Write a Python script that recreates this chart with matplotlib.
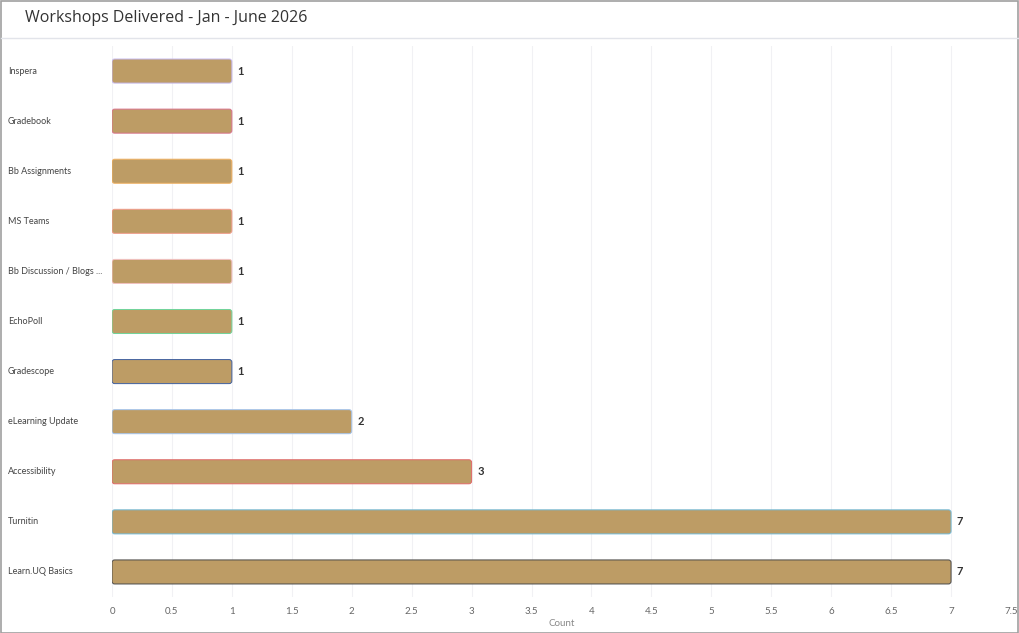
import matplotlib
matplotlib.use("Agg")
import matplotlib.pyplot as plt
from matplotlib.patches import Rectangle, FancyBboxPatch
from matplotlib.lines import Line2D

categories = ["Inspera", "Gradebook", "Bb Assignments", "MS Teams", "Bb Discussion / Blogs ...",
              "EchoPoll", "Gradescope", "eLearning Update", "Accessibility", "Turnitin", "Learn.UQ Basics"]
counts = [1, 1, 1, 1, 1, 1, 1, 2, 3, 7, 7]
edge_colors = ["#c4b6ec", "#d8708a", "#f0b060", "#f09a88", "#f2c0c0", "#70d49a",
               "#40609f", "#a4c4ee", "#e06868", "#70b8d6", "#4a4a4a"]
xticks = [0, 0.5, 1, 1.5, 2, 2.5, 3, 3.5, 4, 4.5, 5, 5.5, 6, 6.5, 7, 7.5]
xtick_labels = ["0", "0.5", "1", "1.5", "2", "2.5", "3", "3.5", "4", "4.5", "5", "5.5", "6", "6.5", "7", "7.5"]

plt.rcParams['font.family'] = ['Lato', 'DejaVu Sans']

W, H = 1019, 633
fig = plt.figure(figsize=(W/100, H/100), dpi=100)
fig.patch.set_facecolor("white")

fig.add_artist(Rectangle((0.5/W, 0.5/H), 1 - 1.5/W, 1 - 1.5/H, transform=fig.transFigure,
                         fill=False, edgecolor="#a0a0a0", linewidth=1.2))
fig.add_artist(Line2D([1/W, 1 - 1/W], [1 - 37.5/H, 1 - 37.5/H], transform=fig.transFigure,
                      color="#e2e4ea", linewidth=1))
fig.text(25/W, 1 - 18/H, "Workshops Delivered - Jan - June 2026", fontsize=11.5,
         color="#333333", va="center", ha="left", family=['Open Sans', 'DejaVu Sans'])

ax = fig.add_axes([112/W, 1 - 597/H, (1011 - 112)/W, (597 - 46)/H])
ypos = list(range(len(categories)))
bars = ax.barh(ypos, counts, height=0.48, color="#bd9c65", linewidth=0, zorder=3)
ax.set_xlim(0, 7.5)
ax.set_ylim(len(categories) - 0.5, -0.5)

# replace with rounded bars using the library's bar geometry
for b, ec in zip(bars, edge_colors):
    x0, y0, w, h = b.get_x(), b.get_y(), b.get_width(), b.get_height()
    b.set_visible(False)
    ax.add_patch(FancyBboxPatch((x0, y0), w, h, boxstyle="round,pad=0,rounding_size=0.022",
                                mutation_aspect=2.4, facecolor="#bd9c65", edgecolor=ec,
                                linewidth=0.7, zorder=3))

ax.set_xticks(xticks)
ax.set_xticklabels(xtick_labels)
ax.set_yticks(ypos)
ax.set_yticklabels([])
ax.tick_params(axis="x", length=0, labelsize=7, labelcolor="#666666", pad=7)
ax.tick_params(axis="y", length=0)
ax.grid(axis="x", color="#f1f1f4", linewidth=0.8, zorder=0)
for s in ax.spines.values():
    s.set_visible(False)
ax.set_xlabel("Count", fontsize=7, color="#888888", labelpad=2)

for y, c, lab in zip(ypos, counts, categories):
    ax.annotate(str(c), xy=(c, y), xytext=(4, 0), textcoords="offset points",
                va="center", ha="left", fontsize=8, fontweight="bold", color="#333333")
    ax.annotate(lab, xy=(0, y), xycoords=("figure fraction", "data"), xytext=(8, 0),
                textcoords="offset pixels", va="center", ha="left", fontsize=6.5, color="#444444")

fig.savefig("out.png", dpi=100, facecolor="white")
